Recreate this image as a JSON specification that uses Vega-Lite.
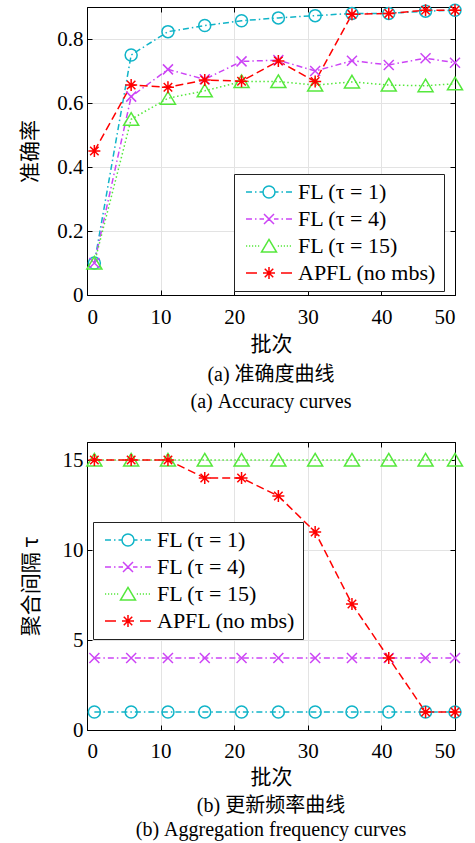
{
  "$schema": "https://vega.github.io/schema/vega-lite/v6.json",
  "background": "white",
  "padding": {"left": 19, "top": 0, "right": 5, "bottom": 0},
  "spacing": 147,
  "bounds": "flush",
  "config": {
    "view": {"stroke": "#000", "strokeWidth": 1},
    "font": "Liberation Serif",
    "axis": {
      "labelFont": "Liberation Serif", "labelFontSize": 21, "labelColor": "#000",
      "titleFont": "Noto Sans CJK SC", "titleFontSize": 21, "titleFontWeight": "normal", "titleColor": "#000",
      "domainColor": "#000", "domainWidth": 1, "tickColor": "#000", "tickSize": -5, "tickWidth": 1,
      "gridColor": "#e3e3e3", "gridWidth": 1, "labelPadding": 9
    },
    "legend": {
      "orient": "none", "fillColor": "white", "strokeColor": "#222", "strokeWidth": 1,
      "padding": 7, "labelFont": "Liberation Serif", "labelFontSize": 22, "labelColor": "#000",
      "symbolSize": 144, "symbolStrokeWidth": 1.5, "labelOffset": 35, "rowPadding": 5, "labelLimit": 300
    },
    "title": {"font": "Liberation Serif, Noto Sans CJK SC", "fontSize": 20, "fontWeight": "normal", "color": "#000"}
  },
  "datasets": {
    "acc": [
      {"x": 1, "series": "FL (τ = 1)", "acc": 0.1},
      {"x": 6, "series": "FL (τ = 1)", "acc": 0.75},
      {"x": 11, "series": "FL (τ = 1)", "acc": 0.823},
      {"x": 16, "series": "FL (τ = 1)", "acc": 0.842},
      {"x": 21, "series": "FL (τ = 1)", "acc": 0.857},
      {"x": 26, "series": "FL (τ = 1)", "acc": 0.866},
      {"x": 31, "series": "FL (τ = 1)", "acc": 0.873},
      {"x": 36, "series": "FL (τ = 1)", "acc": 0.88},
      {"x": 41, "series": "FL (τ = 1)", "acc": 0.88},
      {"x": 46, "series": "FL (τ = 1)", "acc": 0.887},
      {"x": 50, "series": "FL (τ = 1)", "acc": 0.89},
      {"x": 1, "series": "FL (τ = 4)", "acc": 0.1},
      {"x": 6, "series": "FL (τ = 4)", "acc": 0.62},
      {"x": 11, "series": "FL (τ = 4)", "acc": 0.705},
      {"x": 16, "series": "FL (τ = 4)", "acc": 0.674},
      {"x": 21, "series": "FL (τ = 4)", "acc": 0.73},
      {"x": 26, "series": "FL (τ = 4)", "acc": 0.734},
      {"x": 31, "series": "FL (τ = 4)", "acc": 0.7},
      {"x": 36, "series": "FL (τ = 4)", "acc": 0.732},
      {"x": 41, "series": "FL (τ = 4)", "acc": 0.719},
      {"x": 46, "series": "FL (τ = 4)", "acc": 0.74},
      {"x": 50, "series": "FL (τ = 4)", "acc": 0.726},
      {"x": 1, "series": "FL (τ = 15)", "acc": 0.1},
      {"x": 6, "series": "FL (τ = 15)", "acc": 0.549},
      {"x": 11, "series": "FL (τ = 15)", "acc": 0.615},
      {"x": 16, "series": "FL (τ = 15)", "acc": 0.638},
      {"x": 21, "series": "FL (τ = 15)", "acc": 0.667},
      {"x": 26, "series": "FL (τ = 15)", "acc": 0.667},
      {"x": 31, "series": "FL (τ = 15)", "acc": 0.656},
      {"x": 36, "series": "FL (τ = 15)", "acc": 0.666},
      {"x": 41, "series": "FL (τ = 15)", "acc": 0.656},
      {"x": 46, "series": "FL (τ = 15)", "acc": 0.654},
      {"x": 50, "series": "FL (τ = 15)", "acc": 0.66},
      {"x": 1, "series": "APFL (no mbs)", "acc": 0.45},
      {"x": 6, "series": "APFL (no mbs)", "acc": 0.656},
      {"x": 11, "series": "APFL (no mbs)", "acc": 0.649},
      {"x": 16, "series": "APFL (no mbs)", "acc": 0.672},
      {"x": 21, "series": "APFL (no mbs)", "acc": 0.668},
      {"x": 26, "series": "APFL (no mbs)", "acc": 0.731},
      {"x": 31, "series": "APFL (no mbs)", "acc": 0.667},
      {"x": 36, "series": "APFL (no mbs)", "acc": 0.877},
      {"x": 41, "series": "APFL (no mbs)", "acc": 0.88},
      {"x": 46, "series": "APFL (no mbs)", "acc": 0.89},
      {"x": 50, "series": "APFL (no mbs)", "acc": 0.89}
    ],
    "tau": [
      {"x": 1, "series": "FL (τ = 1)", "tau": 1},
      {"x": 6, "series": "FL (τ = 1)", "tau": 1},
      {"x": 11, "series": "FL (τ = 1)", "tau": 1},
      {"x": 16, "series": "FL (τ = 1)", "tau": 1},
      {"x": 21, "series": "FL (τ = 1)", "tau": 1},
      {"x": 26, "series": "FL (τ = 1)", "tau": 1},
      {"x": 31, "series": "FL (τ = 1)", "tau": 1},
      {"x": 36, "series": "FL (τ = 1)", "tau": 1},
      {"x": 41, "series": "FL (τ = 1)", "tau": 1},
      {"x": 46, "series": "FL (τ = 1)", "tau": 1},
      {"x": 50, "series": "FL (τ = 1)", "tau": 1},
      {"x": 1, "series": "FL (τ = 4)", "tau": 4},
      {"x": 6, "series": "FL (τ = 4)", "tau": 4},
      {"x": 11, "series": "FL (τ = 4)", "tau": 4},
      {"x": 16, "series": "FL (τ = 4)", "tau": 4},
      {"x": 21, "series": "FL (τ = 4)", "tau": 4},
      {"x": 26, "series": "FL (τ = 4)", "tau": 4},
      {"x": 31, "series": "FL (τ = 4)", "tau": 4},
      {"x": 36, "series": "FL (τ = 4)", "tau": 4},
      {"x": 41, "series": "FL (τ = 4)", "tau": 4},
      {"x": 46, "series": "FL (τ = 4)", "tau": 4},
      {"x": 50, "series": "FL (τ = 4)", "tau": 4},
      {"x": 1, "series": "FL (τ = 15)", "tau": 15},
      {"x": 6, "series": "FL (τ = 15)", "tau": 15},
      {"x": 11, "series": "FL (τ = 15)", "tau": 15},
      {"x": 16, "series": "FL (τ = 15)", "tau": 15},
      {"x": 21, "series": "FL (τ = 15)", "tau": 15},
      {"x": 26, "series": "FL (τ = 15)", "tau": 15},
      {"x": 31, "series": "FL (τ = 15)", "tau": 15},
      {"x": 36, "series": "FL (τ = 15)", "tau": 15},
      {"x": 41, "series": "FL (τ = 15)", "tau": 15},
      {"x": 46, "series": "FL (τ = 15)", "tau": 15},
      {"x": 50, "series": "FL (τ = 15)", "tau": 15},
      {"x": 1, "series": "APFL (no mbs)", "tau": 15},
      {"x": 6, "series": "APFL (no mbs)", "tau": 15},
      {"x": 11, "series": "APFL (no mbs)", "tau": 15},
      {"x": 16, "series": "APFL (no mbs)", "tau": 14},
      {"x": 21, "series": "APFL (no mbs)", "tau": 14},
      {"x": 26, "series": "APFL (no mbs)", "tau": 13},
      {"x": 31, "series": "APFL (no mbs)", "tau": 11},
      {"x": 36, "series": "APFL (no mbs)", "tau": 7},
      {"x": 41, "series": "APFL (no mbs)", "tau": 4},
      {"x": 46, "series": "APFL (no mbs)", "tau": 1},
      {"x": 50, "series": "APFL (no mbs)", "tau": 1}
    ]
  },
  "resolve": {
    "scale": {"x": "independent", "y": "independent", "color": "independent", "shape": "independent", "strokeDash": "independent"},
    "legend": {"color": "independent", "shape": "independent", "strokeDash": "independent"}
  },
  "vconcat": [
    {
      "width": 368, "height": 288,
      "data": {"name": "acc"},
      "title": {"text": ["(a) 准确度曲线", "(a) Accuracy curves"], "orient": "bottom", "anchor": "middle", "lineHeight": 27, "offset": 11},
      "resolve": {"axis": {"x": "independent", "y": "independent"}, "scale": {"shape": "independent", "color": "independent"}},
      "layer": [
        {
          "mark": {"type": "line", "strokeWidth": 1.5},
          "encoding": {
            "x": {"field": "x", "type": "quantitative", "scale": {"domain": [0, 50], "nice": false},
                  "axis": {"orient": "bottom", "values": [0, 10, 20, 30, 40, 50], "title": "批次", "grid": true, "labelPadding": 16, "titlePadding": 6}},
            "y": {"field": "acc", "type": "quantitative", "scale": {"domain": [0, 0.9], "nice": false},
                  "axis": {"orient": "left", "values": [0, 0.2, 0.4, 0.6, 0.8], "format": "~g", "title": "准确率", "grid": true, "titlePadding": 16}},
            "color": {"field": "series", "type": "nominal",
                      "scale": {"domain": ["FL (τ = 1)", "FL (τ = 4)", "FL (τ = 15)", "APFL (no mbs)"], "range": ["#10b4c8", "#cc44f5", "#55e83c", "#ff0000"]},
                      "legend": null},
            "strokeDash": {"field": "series", "type": "nominal",
                           "scale": {"domain": ["FL (τ = 1)", "FL (τ = 4)", "FL (τ = 15)", "APFL (no mbs)"], "range": [[6, 3, 1.5, 3], [6, 3, 1.5, 3], [1.5, 2.5], [8, 4]]},
                           "legend": null}
          }
        },
        {
          "mark": {"type": "point", "filled": false, "strokeWidth": 1.5, "size": 144, "opacity": 1},
          "encoding": {
            "x": {"field": "x", "type": "quantitative", "scale": {"domain": [0, 50], "nice": false},
                  "axis": {"orient": "top", "values": [0, 10, 20, 30, 40, 50], "labels": false, "title": null, "grid": false}},
            "y": {"field": "acc", "type": "quantitative", "scale": {"domain": [0, 0.9], "nice": false},
                  "axis": {"orient": "right", "values": [0, 0.2, 0.4, 0.6, 0.8], "labels": false, "title": null, "grid": false}},
            "color": {"field": "series", "type": "nominal",
                      "scale": {"domain": ["FL (τ = 1)", "FL (τ = 4)", "FL (τ = 15)", "APFL (no mbs)"], "range": ["#10b4c8", "#cc44f5", "#55e83c", "#ff0000"]},
                      "legend": null},
            "shape": {"field": "series", "type": "nominal",
                      "scale": {"domain": ["FL (τ = 1)", "FL (τ = 4)", "FL (τ = 15)", "APFL (no mbs)"],
                                "range": ["M1,0A1,1 0 1,1 -1,0A1,1 0 1,1 1,0Z", "M-0.833,-0.833L0.833,0.833M-0.833,0.833L0.833,-0.833", "M0,-1.1L1.25,1L-1.25,1Z", "M-1,0H1M0,-1V1M-0.707,-0.707L0.707,0.707M-0.707,0.707L0.707,-0.707"]},
                      "legend": null}
          }
        },
        {
          "transform": [{"filter": "datum.x < 0"}],
          "mark": {"type": "point", "filled": false, "strokeWidth": 1.5, "opacity": 1},
          "encoding": {
            "color": {"field": "series", "type": "nominal",
                      "scale": {"domain": ["FL (τ = 1)", "FL (τ = 4)", "FL (τ = 15)", "APFL (no mbs)"], "range": ["#10b4c8", "#cc44f5", "#55e83c", "#ff0000"]},
                      "legend": {"orient": "none", "legendX": 147, "legendY": 167, "title": null}},
            "shape": {"field": "series", "type": "nominal",
                      "scale": {"domain": ["FL (τ = 1)", "FL (τ = 4)", "FL (τ = 15)", "APFL (no mbs)"],
                                "range": ["M-1,0H0M0.5,0H0.75M1.25,0H1.833M3.833,0H4.417M4.917,0H5.167M5.667,0H6.667M3.833,0A1,1 0 1,1 1.833,0A1,1 0 1,1 3.833,0", "M-1,0H0M0.5,0H0.75M1.25,0H2M3.667,0H4.417M4.917,0H5.167M5.667,0H6.667M2,-0.833L3.667,0.833M2,0.833L3.667,-0.833", "M-1,0H-0.8M-0.5,0H-0.3M0,0H0.2M0.5,0H0.7M1,0H1.2M4.3,0H4.5M4.8,0H5M5.3,0H5.5M5.8,0H6M6.3,0H6.5M2.833,-1.1L4.083,1L1.583,1Z", "M-1,0H0.833M4.833,0H6.667M1.833,0H3.833M2.833,-1V1M2.126,-0.707L3.54,0.707M2.126,0.707L3.54,-0.707"]},
                      "legend": {"orient": "none", "legendX": 147, "legendY": 167, "title": null}}
          }
        }
      ]
    },
    {
      "width": 368, "height": 288,
      "data": {"name": "tau"},
      "title": {"text": ["(b) 更新频率曲线", "(b) Aggregation frequency curves"], "orient": "bottom", "anchor": "middle", "lineHeight": 24, "offset": 9},
      "resolve": {"axis": {"x": "independent", "y": "independent"}, "scale": {"shape": "independent", "color": "independent"}},
      "layer": [
        {
          "mark": {"type": "line", "strokeWidth": 1.5},
          "encoding": {
            "x": {"field": "x", "type": "quantitative", "scale": {"domain": [0, 50], "nice": false},
                  "axis": {"orient": "bottom", "values": [0, 10, 20, 30, 40, 50], "title": "批次", "grid": true, "labelPadding": 15, "titlePadding": 5}},
            "y": {"field": "tau", "type": "quantitative", "scale": {"domain": [0, 16], "nice": false},
                  "axis": {"orient": "left", "values": [0, 5, 10, 15], "title": "聚合间隔 τ", "grid": true, "titlePadding": 21}},
            "color": {"field": "series", "type": "nominal",
                      "scale": {"domain": ["FL (τ = 1)", "FL (τ = 4)", "FL (τ = 15)", "APFL (no mbs)"], "range": ["#10b4c8", "#cc44f5", "#55e83c", "#ff0000"]},
                      "legend": null},
            "strokeDash": {"field": "series", "type": "nominal",
                           "scale": {"domain": ["FL (τ = 1)", "FL (τ = 4)", "FL (τ = 15)", "APFL (no mbs)"], "range": [[6, 3, 1.5, 3], [6, 3, 1.5, 3], [1.5, 2.5], [8, 4]]},
                           "legend": null}
          }
        },
        {
          "mark": {"type": "point", "filled": false, "strokeWidth": 1.5, "size": 144, "opacity": 1},
          "encoding": {
            "x": {"field": "x", "type": "quantitative", "scale": {"domain": [0, 50], "nice": false},
                  "axis": {"orient": "top", "values": [0, 10, 20, 30, 40, 50], "labels": false, "title": null, "grid": false}},
            "y": {"field": "tau", "type": "quantitative", "scale": {"domain": [0, 16], "nice": false},
                  "axis": {"orient": "right", "values": [0, 5, 10, 15], "labels": false, "title": null, "grid": false}},
            "color": {"field": "series", "type": "nominal",
                      "scale": {"domain": ["FL (τ = 1)", "FL (τ = 4)", "FL (τ = 15)", "APFL (no mbs)"], "range": ["#10b4c8", "#cc44f5", "#55e83c", "#ff0000"]},
                      "legend": null},
            "shape": {"field": "series", "type": "nominal",
                      "scale": {"domain": ["FL (τ = 1)", "FL (τ = 4)", "FL (τ = 15)", "APFL (no mbs)"],
                                "range": ["M1,0A1,1 0 1,1 -1,0A1,1 0 1,1 1,0Z", "M-0.833,-0.833L0.833,0.833M-0.833,0.833L0.833,-0.833", "M0,-1.1L1.25,1L-1.25,1Z", "M-1,0H1M0,-1V1M-0.707,-0.707L0.707,0.707M-0.707,0.707L0.707,-0.707"]},
                      "legend": null}
          }
        },
        {
          "transform": [{"filter": "datum.x < 0"}],
          "mark": {"type": "point", "filled": false, "strokeWidth": 1.5, "opacity": 1},
          "encoding": {
            "color": {"field": "series", "type": "nominal",
                      "scale": {"domain": ["FL (τ = 1)", "FL (τ = 4)", "FL (τ = 15)", "APFL (no mbs)"], "range": ["#10b4c8", "#cc44f5", "#55e83c", "#ff0000"]},
                      "legend": {"orient": "none", "legendX": 6, "legendY": 80, "title": null}},
            "shape": {"field": "series", "type": "nominal",
                      "scale": {"domain": ["FL (τ = 1)", "FL (τ = 4)", "FL (τ = 15)", "APFL (no mbs)"],
                                "range": ["M-1,0H0M0.5,0H0.75M1.25,0H1.833M3.833,0H4.417M4.917,0H5.167M5.667,0H6.667M3.833,0A1,1 0 1,1 1.833,0A1,1 0 1,1 3.833,0", "M-1,0H0M0.5,0H0.75M1.25,0H2M3.667,0H4.417M4.917,0H5.167M5.667,0H6.667M2,-0.833L3.667,0.833M2,0.833L3.667,-0.833", "M-1,0H-0.8M-0.5,0H-0.3M0,0H0.2M0.5,0H0.7M1,0H1.2M4.3,0H4.5M4.8,0H5M5.3,0H5.5M5.8,0H6M6.3,0H6.5M2.833,-1.1L4.083,1L1.583,1Z", "M-1,0H0.833M4.833,0H6.667M1.833,0H3.833M2.833,-1V1M2.126,-0.707L3.54,0.707M2.126,0.707L3.54,-0.707"]},
                      "legend": {"orient": "none", "legendX": 6, "legendY": 80, "title": null}}
          }
        }
      ]
    }
  ]
}
